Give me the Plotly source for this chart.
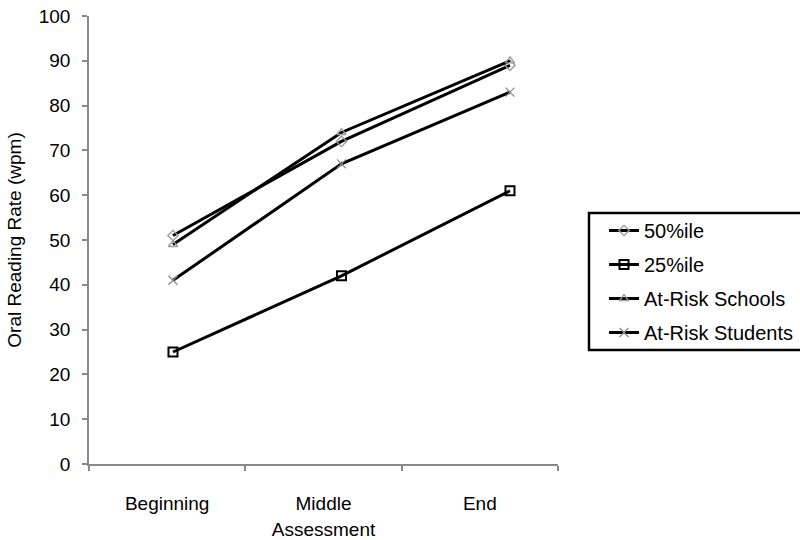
import plotly.graph_objects as go

categories = ["Beginning", "Middle", "End"]
pct50 = [51, 72, 89]
pct25 = [25, 42, 61]
at_risk_schools = [49, 74, 90]
at_risk_students = [41, 67, 83]
y_ticks = list(range(0, 101, 10))

FONT = "Liberation Sans, Arial, sans-serif"
LINE = dict(color="black", width=3)

fig = go.Figure()
series = [
    ("50%ile", pct50, dict(symbol="diamond-open", size=8, color="#9a9a9a", line=dict(width=1.3))),
    ("25%ile", pct25, dict(symbol="square-open", size=9, color="black", line=dict(width=2))),
    ("At-Risk Schools", at_risk_schools, dict(symbol="triangle-up-open", size=8, color="#9a9a9a", line=dict(width=1.3))),
    ("At-Risk Students", at_risk_students, dict(symbol="x-thin-open", size=9, color="#8a8a8a", line=dict(width=1.3, color="#8a8a8a"))),
]
for i, (name, vals, mk) in enumerate(series):
    fig.add_trace(go.Scatter(x=categories, y=vals, name=name, mode="lines+markers",
                             line=LINE, marker=mk, xaxis="x2", yaxis="y",
                             legendgroup=f"g{i}"))

# invisible trace to set category axis for labels
fig.add_trace(go.Scatter(x=categories, y=[None]*3, showlegend=False, hoverinfo="skip", xaxis="x", yaxis="y"))

fig.update_layout(
    width=800, height=540,
    margin=dict(l=89, r=242, t=16, b=76, autoexpand=False),
    paper_bgcolor="white", plot_bgcolor="white",
    font=dict(family=FONT, size=19, color="black"),
    showlegend=True,
    xaxis=dict(type="category", categoryarray=categories, range=[-0.5, 2.5],
               showline=True, linecolor="#888888", linewidth=1.5,
               ticks="outside", ticklen=5, tickcolor="#888888", tickwidth=1.5,
               tickson="boundaries", showgrid=False, zeroline=False,
               ticklabelstandoff=21, automargin=False,
               title=dict(text="Assessment", font=dict(size=19), standoff=14)),
    xaxis2=dict(type="category", categoryarray=categories, range=[-0.4985, 2.285],
                overlaying="x", visible=False, showgrid=False),
    yaxis=dict(range=[0, 100], tickvals=y_ticks, showline=True, linecolor="#888888", linewidth=1.5,
               ticks="outside", ticklen=5, tickcolor="#888888", tickwidth=1.5,
               showgrid=False, zeroline=False, ticklabelstandoff=8, automargin=False,
               title=dict(text="Oral Reading Rate (wpm)", font=dict(size=19), standoff=12)),
    legend=dict(xref="container", yref="container", x=604/800, y=1 - 211/540,
                xanchor="left", yanchor="top", borderwidth=0,
                bgcolor="rgba(0,0,0,0)", font=dict(size=20), tracegroupgap=5, itemsizing="trace"),
    shapes=[dict(type="rect", xref="paper", yref="paper",
                 x0=(589 - 89) / 469, x1=(806 - 89) / 469,
                 y0=(464 - 350) / 448, y1=(464 - 213) / 448,
                 line=dict(color="black", width=2.5), fillcolor="rgba(0,0,0,0)", layer="above")],
)

fig.write_html("out.html")
